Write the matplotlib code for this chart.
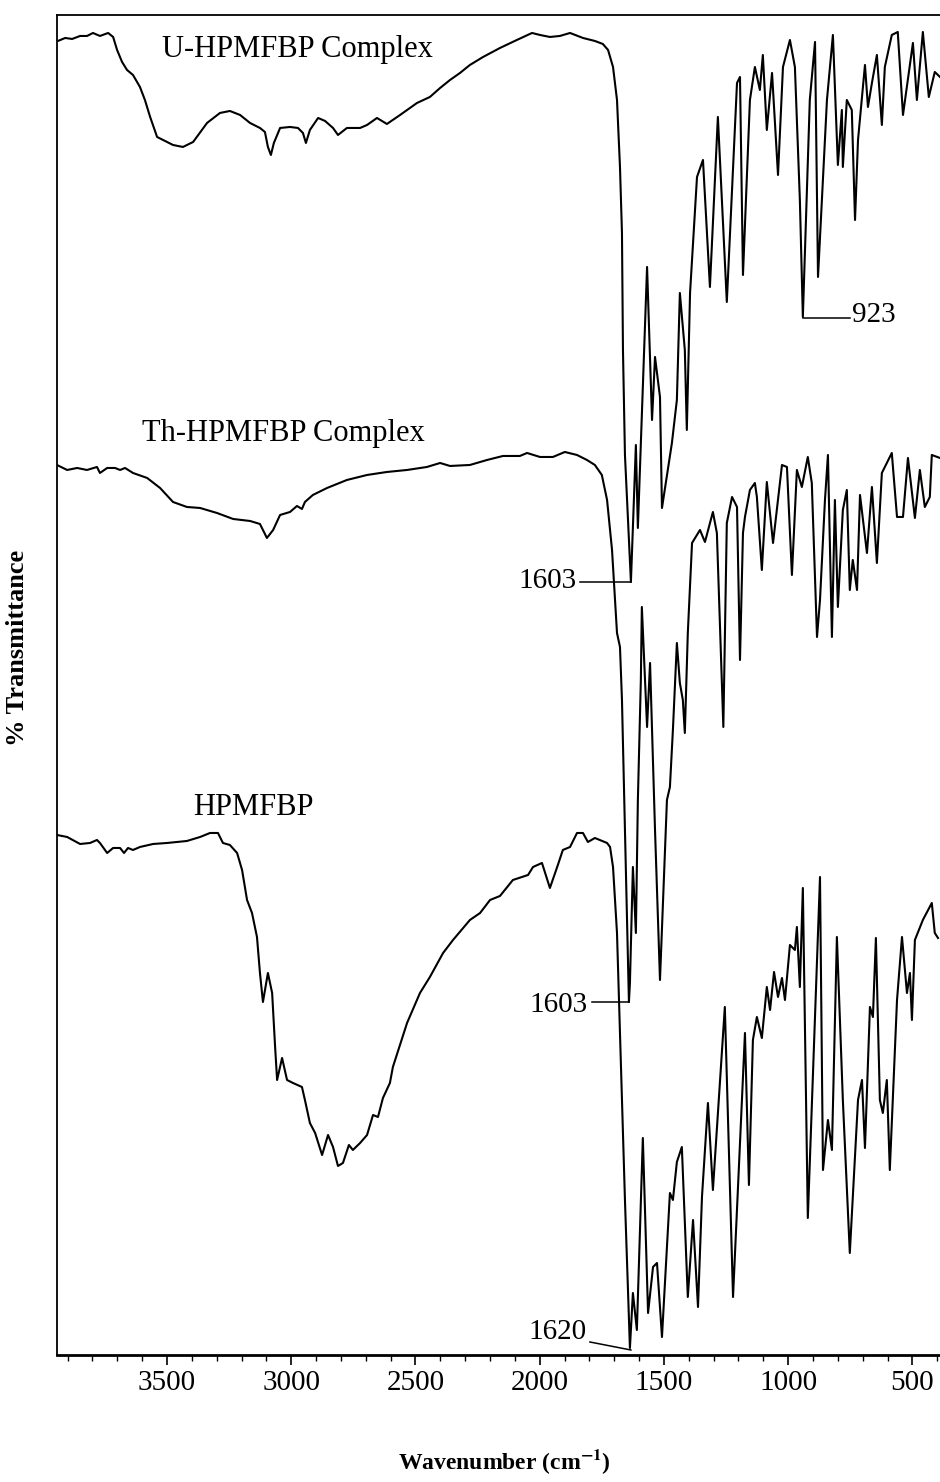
import matplotlib
matplotlib.use("Agg")
import matplotlib.pyplot as plt
from matplotlib.ticker import MultipleLocator

plt.rcParams["font.family"] = ["Liberation Serif", "DejaVu Serif"]
plt.rcParams["mathtext.fontset"] = "stix"

# U-HPMFBP complex (top trace), wavenumber in cm-1, stacked transmittance
u_wn = [3943, 3939, 3910, 3882, 3850, 3822, 3798, 3770, 3737, 3717,
        3701, 3681, 3661, 3637, 3609, 3589, 3568, 3540, 3516, 3476,
        3436, 3395, 3339, 3287, 3247, 3206, 3166, 3126, 3106, 3094,
        3082, 3070, 3045, 3005, 2973, 2953, 2941, 2925, 2892, 2864,
        2832, 2812, 2776, 2723, 2695, 2655, 2615, 2562, 2494, 2442,
        2401, 2361, 2321, 2281, 2228, 2160, 2092, 2031, 1999, 1959,
        1919, 1878, 1826, 1778, 1746, 1725, 1705, 1689, 1677, 1669,
        1665, 1657, 1633, 1613, 1605, 1568, 1548, 1536, 1516, 1508,
        1468, 1448, 1436, 1416, 1408, 1395, 1367, 1343, 1315, 1283,
        1247, 1206, 1194, 1182, 1154, 1134, 1114, 1102, 1086, 1065,
        1041, 1021, 993, 973, 953, 941, 913, 892, 880, 844,
        820, 800, 784, 780, 764, 744, 731, 719, 691, 679,
        663, 643, 623, 611, 583, 559, 538, 498, 482, 458,
        434, 410, 389]
u_t = [131.4, 131.4, 131.7, 131.6, 131.9, 131.9, 132.2, 131.9, 132.2, 131.8,
       130.5, 129.3, 128.5, 128.0, 126.8, 125.5, 123.8, 121.8, 121.5, 121.0,
       120.8, 121.3, 123.2, 124.2, 124.4, 124.0, 123.2, 122.7, 122.3, 120.8,
       120.0, 121.2, 122.7, 122.8, 122.7, 122.2, 121.2, 122.5, 123.7, 123.4,
       122.7, 122.0, 122.7, 122.7, 123.0, 123.7, 123.1, 124.0, 125.2, 125.8,
       126.7, 127.5, 128.2, 129.0, 129.8, 130.7, 131.5, 132.2, 132.0, 131.8,
       131.9, 132.2, 131.7, 131.4, 131.1, 130.5, 128.8, 125.5, 118.8, 112.2,
       100.5, 90.0, 77.3, 91.0, 82.7, 108.8, 93.5, 99.8, 95.8, 84.7,
       91.2, 95.5, 106.2, 100.5, 92.5, 106.2, 117.8, 119.5, 106.8, 123.8,
       105.3, 127.2, 127.8, 108.0, 125.5, 128.8, 126.5, 130.0, 122.5, 128.2,
       118.0, 128.8, 131.5, 128.8, 115.5, 103.8, 125.5, 131.3, 107.8, 125.5,
       132.0, 119.0, 124.5, 118.8, 125.5, 124.5, 113.5, 121.5, 129.0, 124.8,
       127.2, 130.0, 123.0, 128.8, 132.0, 132.3, 124.0, 131.2, 125.5, 132.3,
       125.8, 128.3, 127.8]

# Th-HPMFBP complex (middle trace)
th_wn = [3943, 3902, 3862, 3822, 3782, 3770, 3741, 3709, 3689, 3669,
         3637, 3580, 3528, 3476, 3420, 3367, 3299, 3234, 3166, 3126,
         3098, 3073, 3045, 3005, 2977, 2957, 2945, 2913, 2856, 2776,
         2695, 2615, 2534, 2454, 2401, 2361, 2281, 2212, 2148, 2080,
         2051, 1999, 1947, 1899, 1850, 1810, 1778, 1750, 1729, 1709,
         1689, 1677, 1669, 1657, 1641, 1637, 1625, 1613, 1605, 1593,
         1589, 1568, 1556, 1536, 1516, 1488, 1476, 1464, 1448, 1436,
         1424, 1416, 1404, 1387, 1355, 1335, 1303, 1287, 1261, 1247,
         1226, 1206, 1194, 1182, 1174, 1154, 1134, 1126, 1106, 1086,
         1061, 1025, 1005, 985, 965, 945, 921, 905, 884, 872,
         852, 840, 824, 812, 800, 780, 764, 752, 740, 723,
         711, 683, 663, 643, 623, 583, 562, 538, 518, 490,
         470, 450, 430, 422, 389]
th_t = [89.0, 88.5, 88.7, 88.5, 88.8, 88.2, 88.7, 88.7, 88.5, 88.7,
        88.2, 87.7, 86.7, 85.3, 84.8, 84.7, 84.2, 83.6, 83.4, 83.1,
        81.7, 82.5, 84.0, 84.3, 84.9, 84.6, 85.3, 86.0, 86.7, 87.5,
        88.0, 88.3, 88.5, 88.8, 89.2, 88.9, 89.0, 89.5, 89.9, 89.9,
        90.2, 89.8, 89.8, 90.3, 90.0, 89.5, 89.0, 88.0, 85.5, 80.5,
        72.2, 70.8, 65.5, 52.5, 35.3, 37.2, 48.8, 42.2, 55.5, 67.5,
        74.8, 62.8, 69.2, 52.5, 37.5, 55.5, 56.8, 62.5, 71.2, 67.2,
        65.5, 62.2, 72.2, 81.2, 82.5, 81.3, 84.3, 82.2, 62.8, 83.2,
        85.8, 84.8, 69.5, 82.2, 83.8, 86.5, 87.2, 85.8, 78.5, 87.3,
        81.2, 89.0, 88.8, 78.0, 88.5, 86.8, 89.8, 87.2, 71.8, 75.5,
        85.5, 90.0, 71.8, 85.5, 74.8, 84.5, 86.5, 76.5, 79.5, 76.5,
        86.0, 80.2, 86.8, 79.2, 88.2, 90.2, 83.8, 83.8, 89.7, 83.7,
        88.5, 84.8, 85.8, 90.0, 89.7]

# HPMFBP ligand (bottom trace)
h_wn = [3943, 3902, 3850, 3810, 3782, 3770, 3741, 3717, 3689, 3673,
        3657, 3637, 3609, 3556, 3500, 3420, 3367, 3327, 3295, 3275,
        3247, 3218, 3198, 3178, 3158, 3138, 3126, 3114, 3094, 3077,
        3065, 3057, 3037, 3017, 2993, 2957, 2945, 2925, 2904, 2876,
        2852, 2832, 2812, 2792, 2768, 2752, 2723, 2695, 2671, 2651,
        2631, 2603, 2591, 2534, 2482, 2442, 2389, 2349, 2281, 2240,
        2200, 2160, 2108, 2047, 2027, 1991, 1959, 1927, 1907, 1878,
        1850, 1826, 1806, 1778, 1729, 1717, 1705, 1689, 1669, 1657,
        1637, 1625, 1609, 1585, 1564, 1544, 1528, 1508, 1488, 1476,
        1464, 1448, 1428, 1404, 1383, 1363, 1347, 1323, 1303, 1255,
        1222, 1174, 1158, 1142, 1126, 1106, 1086, 1073, 1057, 1041,
        1025, 1013, 993, 973, 965, 953, 941, 921, 872, 860,
        840, 824, 804, 780, 752, 719, 703, 691, 671, 659,
        647, 631, 619, 603, 591, 579, 562, 542, 522, 510,
        502, 490, 458, 422, 410, 397]
h_t = [52.0, 51.8, 51.1, 51.2, 51.5, 51.2, 50.2, 50.7, 50.7, 50.2,
       50.7, 50.5, 50.8, 51.1, 51.2, 51.4, 51.8, 52.2, 52.2, 51.2,
       51.0, 50.2, 48.5, 45.5, 44.2, 41.8, 38.2, 35.3, 38.2, 36.2,
       30.8, 27.5, 29.7, 27.5, 27.2, 26.8, 25.5, 23.2, 22.2, 20.0,
       22.0, 20.8, 18.9, 19.2, 21.0, 20.5, 21.2, 22.0, 24.0, 23.8,
       25.7, 27.2, 28.8, 33.2, 36.2, 37.8, 40.2, 41.5, 43.5, 44.2,
       45.5, 45.9, 47.5, 48.0, 48.8, 49.2, 46.7, 49.0, 50.5, 50.8,
       52.2, 52.2, 51.3, 51.7, 51.2, 50.8, 48.8, 42.2, 25.5, 15.5,
       0.7, 6.2, 2.5, 21.7, 4.2, 8.8, 9.2, 1.8, 10.8, 16.2,
       15.5, 19.3, 20.8, 5.8, 13.5, 4.8, 15.8, 25.2, 16.5, 34.8,
       5.8, 32.2, 17.0, 31.5, 33.8, 31.7, 36.8, 34.5, 38.3, 35.8,
       37.7, 35.5, 41.0, 40.5, 42.8, 36.8, 46.7, 13.7, 47.8, 18.5,
       23.5, 20.5, 41.8, 25.5, 10.2, 25.5, 27.5, 20.7, 34.8, 33.8,
       41.7, 25.5, 24.2, 27.5, 18.5, 25.5, 35.5, 41.8, 36.2, 38.2,
       33.5, 41.5, 43.5, 45.2, 42.2, 41.7]

fig = plt.figure(figsize=(9.4, 14.82), dpi=100)
ax = fig.add_axes([0.0606, 0.0857, 0.9394, 0.9042])

for wn, t in [(u_wn, u_t), (th_wn, th_t), (h_wn, h_t)]:
    ax.plot(wn, t, color="black", lw=1.5, solid_joinstyle="round")

ax.set_xlim(3943, 389)
ax.set_ylim(0, 134)

# trace labels
ax.text(3520, 130.5, "U-HPMFBP Complex", fontsize=22, va="center", ha="left")
ax.text(3601, 92.1, "Th-HPMFBP Complex", fontsize=22, va="center", ha="left")
ax.text(3395, 54.7, "HPMFBP", fontsize=22, va="center", ha="left")

# peak markers
ax.plot([941, 752], [103.7, 103.7], color="black", lw=1.1)
ax.text(744, 104.0, "923", fontsize=21, va="center", ha="left")
ax.plot([1838, 1633], [77.3, 77.3], color="black", lw=1.1)
ax.text(1850, 77.4, "1603", fontsize=21, va="center", ha="right")
ax.plot([1790, 1641], [35.3, 35.3], color="black", lw=1.1)
ax.text(1806, 35.0, "1603", fontsize=21, va="center", ha="right")
ax.plot([1798, 1633], [1.3, 0.5], color="black", lw=1.1)
ax.text(1810, 2.3, "1620", fontsize=21, va="center", ha="right")

ax.xaxis.set_major_locator(MultipleLocator(500))
ax.xaxis.set_minor_locator(MultipleLocator(100))
ax.tick_params(axis="x", which="major", direction="out", length=7, width=1.2,
               labelsize=21, pad=4)
ax.tick_params(axis="x", which="minor", direction="out", length=4, width=1.0)
ax.tick_params(axis="y", left=False, labelleft=False)
ax.spines["right"].set_visible(False)
for s in ["left", "top", "bottom"]:
    ax.spines[s].set_linewidth(1.3)
ax.spines["bottom"].set_linewidth(2.0)

fig.text(504 / 940, 1 - 1462 / 1482, r"Wavenumber (cm$^{\mathbf{-1}}$)",
         fontsize=17, fontweight="bold", ha="center", va="center")
fig.text(18 / 940, 1 - 648 / 1482, "% Transmittance", fontsize=19,
         fontweight="bold", rotation=90, ha="center", va="center")

fig.savefig("out.png", dpi=100)
